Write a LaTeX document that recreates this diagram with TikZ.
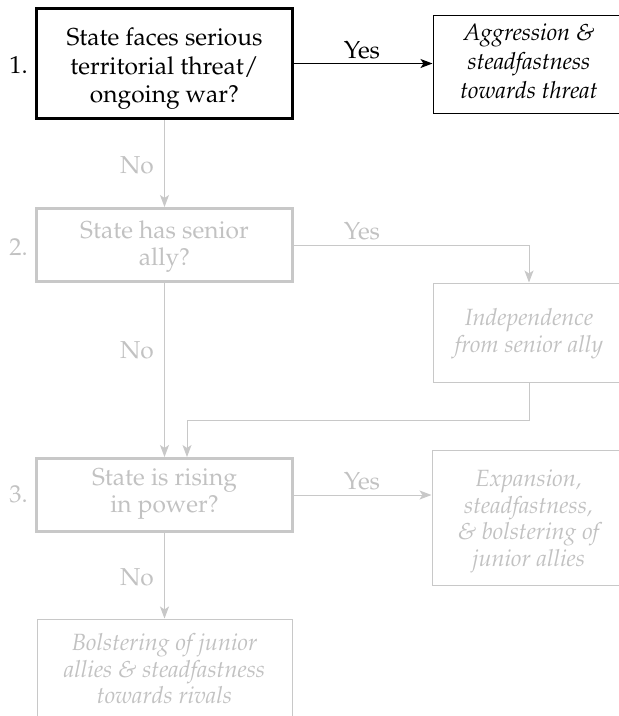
\documentclass[tikz,border=0pt]{standalone}
\usepackage[T1]{fontenc}
\usepackage{mathpazo}
\usetikzlibrary{arrows.meta}

\definecolor{fade}{RGB}{200,200,200}
\definecolor{fadetext}{RGB}{194,194,194}

\tikzset{
  qbox/.style={draw, line width=3pt, minimum width=256pt, minimum height=73pt, inner sep=0pt},
  abox/.style={draw, line width=1pt, inner sep=0pt},
  qtext/.style={align=center, inner sep=0pt, font=\fontsize{24.5}{#1}\selectfont},
  qtext/.default=27,
  atext/.style={align=center, inner sep=0pt, font=\fontsize{23.5}{#1}\selectfont\itshape},
  atext/.default=26.5,
  lab/.style={inner sep=0pt, font=\fontsize{24.5}{27}\selectfont},
  tip/.style={-{Stealth[length=12pt, width=9pt, inset=3pt]}},
  live/.style={draw=black, text=black},
  dim/.style={draw=fade, text=fadetext},
  conn/.style={line width=1pt, tip},
}

\begin{document}
\begin{tikzpicture}[x=1pt, y=-1pt]
  \useasboundingbox (0,0) rectangle (619,716);
  \clip (0,0) rectangle (619,716);

  % question boxes
  \node[qbox, live, minimum height=110pt] (q1) at (164.5,63.5) {};
  \node[qbox, dim] (q2) at (164.5,245) {};
  \node[qbox, dim] (q3) at (164.5,495) {};
  \node[qtext=28.5, text=black] (t1) at (164.5,69)
    {State faces serious\\territorial threat/\\ongoing war?};
  \node[qtext, text=fadetext] (t2) at (164.5,247) {State has senior\\ally?};
  \node[qtext, text=fadetext] (t3) at (164.5,494) {State is rising\\in power?};

  % step numbers
  \node[lab, text=black] (n1) at (18.5,65) {1.};
  \node[lab, text=fadetext] (n2) at (18.5,247) {2.};
  \node[lab, text=fadetext] (n3) at (18.5,494) {3.};

  % outcome boxes
  \node[abox, live, minimum width=192pt, minimum height=98pt] (a1) at (529,64) {};
  \node[abox, dim, minimum width=192pt, minimum height=99pt] (a2) at (529,332.5) {};
  \node[abox, dim, minimum width=193pt, minimum height=135pt] (a3) at (528.5,517.5) {};
  \node[abox, dim, minimum width=255pt, minimum height=101pt] (a4) at (164.5,669.5) {};
  \node[atext=29, text=black] (s1) at (529,61.5)
    {Aggression \&\\steadfastness\\towards threat};
  \node[atext=27, text=fadetext] (s2) at (529,334) {Independence\\from senior ally};
  \node[atext, text=fadetext] (s3) at (528.5,521)
    {Expansion,\\steadfastness,\\\& bolstering of\\junior allies};
  \node[atext, text=fadetext] (s4) at (164.5,669)
    {Bolstering of junior\\allies \& steadfastness\\towards rivals};

  % branch labels
  \node[lab, text=black] (y1) at (362,50) {Yes};
  \node[lab, text=fadetext] (y2) at (362,231) {Yes};
  \node[lab, text=fadetext] (y3) at (362,481) {Yes};
  \node[lab, text=fadetext] (no1) at (137,165) {No};
  \node[lab, text=fadetext] (no2) at (137,350) {No};
  \node[lab, text=fadetext] (no3) at (137,577) {No};

  % connectors
  \draw[conn, draw=black, line width=1.2pt] (q1.east) -- (q1.east -| a1.west);
  \draw[conn, draw=fade] (q1.south) -- (q2.north);
  \draw[conn, draw=fade] (q2.east) -| (a2.north);
  \draw[conn, draw=fade] (q2.south) -- (q3.north);
  \coordinate (bend) at (187,420);
  \draw[conn, draw=fade] (a2.south) |- (bend) -- (bend |- q3.north);
  \draw[conn, draw=fade] (q3.east) -- (q3.east -| a3.west);
  \draw[conn, draw=fade] (q3.south) -- (a4.north);
\end{tikzpicture}
\end{document}
